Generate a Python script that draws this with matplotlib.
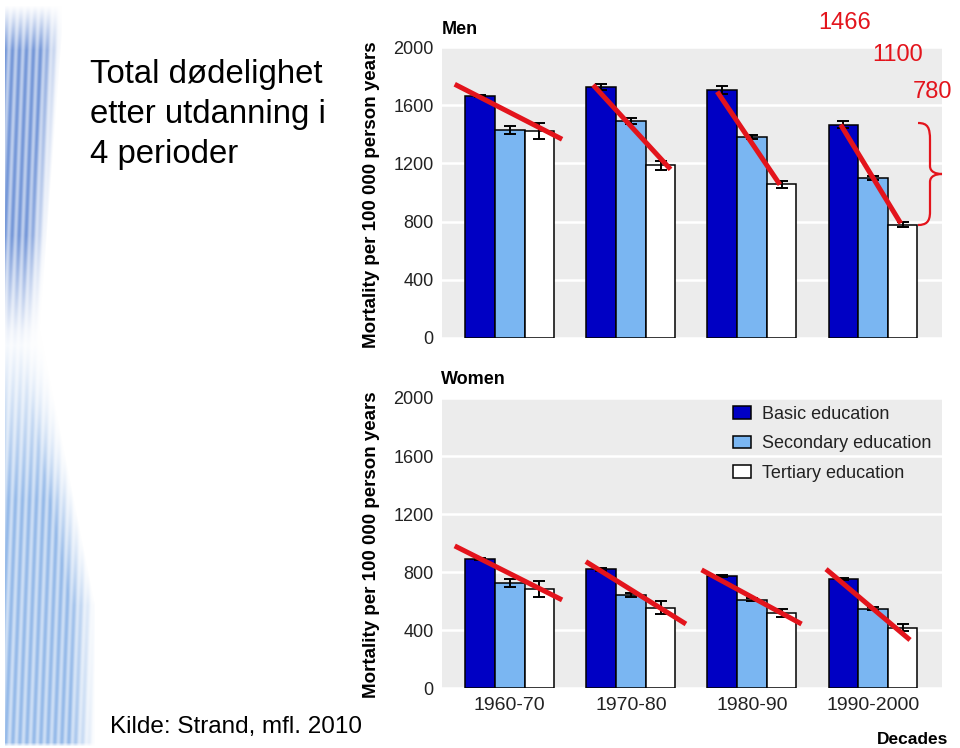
import numpy as np
import matplotlib
matplotlib.use("Agg")
import matplotlib.pyplot as plt
from matplotlib.patches import Patch, PathPatch
from matplotlib.path import Path

# ---------------- data ----------------
periods = ["1960-70", "1970-80", "1980-90", "1990-2000"]
levels = ["Basic education", "Secondary education", "Tertiary education"]

men_basic = [1663, 1727, 1704, 1466]
men_secondary = [1430, 1491, 1383, 1100]
men_tertiary = [1423, 1187, 1056, 780]
men_basic_err = [10, 20, 30, 25]
men_secondary_err = [27, 20, 15, 12]
men_tertiary_err = [55, 30, 25, 15]

women_basic = [892, 821, 774, 754]
women_secondary = [724, 643, 609, 549]
women_tertiary = [685, 556, 517, 418]
women_basic_err = [8, 10, 8, 8]
women_secondary_err = [27, 12, 10, 12]
women_tertiary_err = [57, 45, 27, 25]

# red hand-drawn trend lines: (x offset from group centre, value)
men_trend_start = [(-0.455, 1744), (-0.312, 1739), (-0.287, 1693), (-0.267, 1466)]
men_trend_end = [(0.432, 1366), (0.328, 1159), (0.231, 1054), (0.229, 788)]
women_trend_start = [(-0.455, 981), (-0.372, 873), (-0.416, 816), (-0.388, 821)]
women_trend_end = [(0.432, 609), (0.455, 443), (0.41, 443), (0.306, 333)]

annot_values = ["1466", "1100", "780"]
yticks = [0, 400, 800, 1200, 1600, 2000]

# ---------------- style ----------------
SANS = "Liberation Sans"
plt.rcParams["font.family"] = [SANS, "DejaVu Sans"]

C_BASIC = "#0000c4"
C_SEC = "#7ab6f2"
C_TER = "#ffffff"
C_BG = "#ececec"
C_RED = "#e3141c"

W, H = 960, 748
fig = plt.figure(figsize=(9.6, 7.48), dpi=100)


def fx(px):
    return px / W


def fy(py):
    return 1 - py / H


# ---------------- decorative stripe on the left ----------------
sx = np.arange(100)[None, :].astype(float)
sy = np.arange(H)[:, None].astype(float)
xs = sx + 0.04 * sy
stripe = 0.5 + 0.5 * np.cos(np.pi * xs / 7.0) ** 2
r1 = 62 - np.clip(sy - 30, 0, None) * 0.075
a1 = (np.clip((r1 - sx) / 18, 0, 1) * np.clip((sy - 5) / 45, 0, 1)
      * np.clip((345 - sy) / 110, 0, 1) * (sx > 4)) * 0.85
r2 = np.minimum(40 + np.clip(sy - 330, 0, None) * 0.2, 95)
a2 = (np.clip((r2 - sx) / 25, 0, 1) * np.clip((sy - 330) / 170, 0, 1)
      * np.clip((746 - sy) / 4, 0, 1) * (sx > 4)) * 0.8
col1 = np.array([95, 135, 210]) / 255
col2 = np.array([125, 170, 228]) / 255
img = np.ones((H, 100, 3))
for a, c in ((a1 * stripe, col1), (a2 * stripe, col2)):
    a = a[..., None]
    img = img * (1 - a) + c[None, None, :] * a
axs = fig.add_axes([0, 0, fx(100), 1])
axs.imshow(img, aspect="auto", interpolation="bilinear")
axs.axis("off")

# ---------------- text on the left ----------------
for txt, base in (("Total dødelighet", 83), ("etter utdanning i", 123), ("4 perioder", 163)):
    fig.text(fx(90), fy(base), txt, fontsize=23.7, va="baseline", ha="left", color="black")
fig.text(fx(110), fy(733), "Kilde: Strand, mfl. 2010", fontsize=17.5, va="baseline", ha="left")

# ---------------- panels ----------------
bw = 0.245
x = np.arange(len(periods))


def panel(rect, basic, sec, ter, be, se, te, tstart, tend, show_x):
    ax = fig.add_axes(rect)
    ax.set_facecolor(C_BG)
    ax.set_xlim(-0.56, 3.57)
    ax.set_ylim(0, 2000)
    ax.set_yticks(yticks)
    ax.grid(axis="y", color="white", linewidth=1.8)
    ax.set_axisbelow(True)
    for s in ax.spines.values():
        s.set_visible(False)
    ekw = dict(ecolor="black", elinewidth=1.4, capsize=4, capthick=1.4)
    ax.bar(x - bw, basic, bw, color=C_BASIC, edgecolor="black", linewidth=1.1,
           yerr=be, error_kw=ekw, zorder=2)
    ax.bar(x, sec, bw, color=C_SEC, edgecolor="black", linewidth=1.1,
           yerr=se, error_kw=ekw, zorder=2)
    ax.bar(x + bw, ter, bw, color=C_TER, edgecolor="black", linewidth=1.1,
           yerr=te, error_kw=ekw, zorder=2)
    for i, ((dx0, y0), (dx1, y1)) in enumerate(zip(tstart, tend)):
        ax.plot([x[i] + dx0, x[i] + dx1], [y0, y1], color=C_RED, linewidth=3.6,
                solid_capstyle="butt", zorder=5, clip_on=False)
    ax.tick_params(axis="both", length=0, pad=6)
    ax.set_yticklabels([str(v) for v in yticks], fontsize=13, color="#222222")
    ax.set_xticks(x)
    if show_x:
        ax.set_xticklabels(periods, fontsize=14, color="#222222")
    else:
        ax.set_xticklabels([])
    return ax


men_rect = [fx(442), fy(338), fx(942) - fx(442), fy(47) - fy(338)]
women_rect = [fx(442), fy(688.3), fx(942) - fx(442), fy(398) - fy(688.3)]

ax_m = panel(men_rect, men_basic, men_secondary, men_tertiary,
             men_basic_err, men_secondary_err, men_tertiary_err,
             men_trend_start, men_trend_end, False)
ax_w = panel(women_rect, women_basic, women_secondary, women_tertiary,
             women_basic_err, women_secondary_err, women_tertiary_err,
             women_trend_start, women_trend_end, True)

fig.text(fx(442), fy(29), "Men", fontsize=13, fontweight="bold", va="center", ha="left")
fig.text(fx(441), fy(380), "Women", fontsize=13, fontweight="bold", va="center", ha="left")
fig.text(fx(948), fy(739), "Decades", fontsize=12.5, fontweight="bold", va="center", ha="right")

ylab = "Mortality per 100 000 person years"
fig.text(fx(371), fy(195), ylab, rotation=90, fontsize=13.5, fontweight="bold",
         va="center", ha="center")
fig.text(fx(371), fy(545), ylab, rotation=90, fontsize=13.5, fontweight="bold",
         va="center", ha="center")

# legend
handles = [Patch(facecolor=c, edgecolor="black", linewidth=1.1) for c in (C_BASIC, C_SEC, C_TER)]
leg = fig.legend(handles, levels, loc="upper left",
                 bbox_to_anchor=(fx(733), fy(406)), bbox_transform=fig.transFigure,
                 frameon=False, fontsize=13, handlelength=1.0, handleheight=0.7,
                 handletextpad=0.6, labelspacing=0.68, borderpad=0, borderaxespad=0)
for t in leg.get_texts():
    t.set_color("#222222")

# red annotations
for txt, xl, base in zip(annot_values, (818, 872, 913), (29, 61, 98)):
    fig.text(fx(xl), fy(base), txt, fontsize=17, color=C_RED, va="baseline", ha="left")

# brace
verts_px = [(918, 123), (928, 123), (930, 128), (930, 140),
            (930, 160), (930, 160), (930, 166),
            (930, 172), (936, 174), (942, 174),
            (936, 174), (930, 176), (930, 182),
            (930, 188), (930, 188), (930, 212),
            (930, 222), (926, 225), (918, 225)]
codes = [Path.MOVETO] + [Path.CURVE4] * 18
verts = [(fx(a), fy(b)) for a, b in verts_px]
fig.add_artist(PathPatch(Path(verts, codes), facecolor="none", edgecolor=C_RED,
                         linewidth=1.6, transform=fig.transFigure))

fig.savefig("out.png", dpi=100, facecolor="white")
